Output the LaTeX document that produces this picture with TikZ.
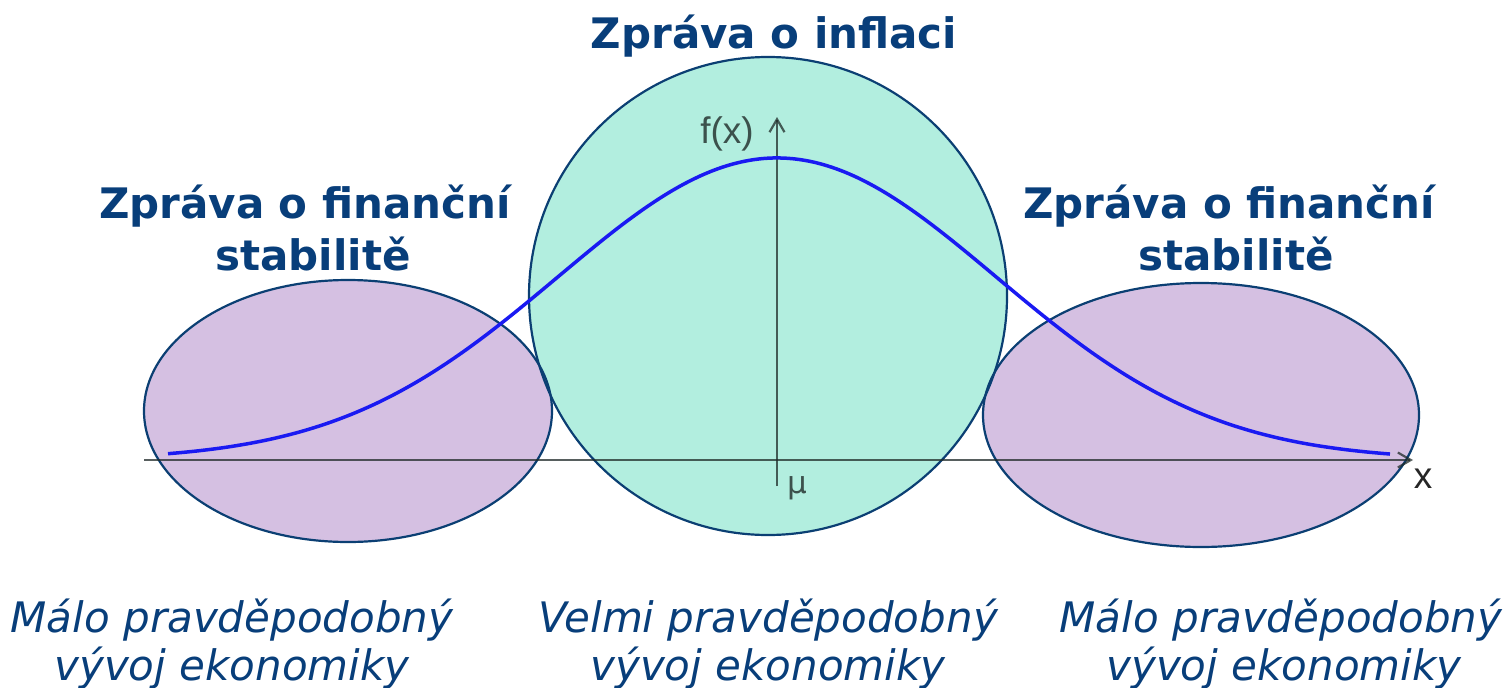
\documentclass[tikz,border=0pt]{standalone}
\usepackage{fontspec}
\setmainfont{DejaVu Sans}
\newfontfamily\lblfont{Liberation Sans}
\usetikzlibrary{arrows.meta}
\definecolor{txtblue}{HTML}{083E7A}
\definecolor{edgeblue}{HTML}{0B3F73}
\definecolor{tealfill}{HTML}{B2EEDF}
\definecolor{purplefill}{HTML}{D5C0E2}
\definecolor{curveblue}{HTML}{1A1AF2}
\definecolor{axisgray}{HTML}{1F2A28}
\tikzset{
  titletext/.style={font=\fontsize{42}{48}\selectfont\bfseries, text=txtblue, inner sep=0pt, anchor=base},
  notetext/.style={font=\fontsize{42}{48}\selectfont\itshape, text=txtblue, inner sep=0pt, anchor=base},
  axislabel/.style={font=\lblfont\fontsize{37}{40}\selectfont, text=axisgray, text opacity=0.8, inner sep=0pt},
  region/.style={draw=edgeblue, line width=2.2pt},
  axisline/.style={draw=axisgray, draw opacity=0.75, line width=2.2pt},
}
\begin{document}
\begin{tikzpicture}[x=1pt,y=-1pt]
\useasboundingbox (0,0) rectangle (1510,688);
% regions
\fill[purplefill] (348,411) ellipse [x radius=204, y radius=131];
\fill[purplefill] (1201,415) ellipse [x radius=218, y radius=132];
\node[region, fill=tealfill, circle, minimum size=478pt, inner sep=0pt] (mid) at (768,296) {};
\draw[region] (348,411) ellipse [x radius=204, y radius=131];
\draw[region] (1201,415) ellipse [x radius=218, y radius=132];
% axes
\coordinate (xs) at (144,460);
\coordinate (xe) at (1413,460);
\coordinate (ys) at (777,486);
\coordinate (ye) at (777,117);
\draw[axisline, -{Straight Barb[length=13pt,width=15pt]}] (xs) -- (xe);
\draw[axisline, -{Straight Barb[length=13pt,width=15pt]}] (ys) -- (ye);
% curve
\draw[curveblue, line width=3.5pt, smooth, samples=120, domain=168:1390]
  plot ({\x},{460-302*exp(-0.5*((\x-777)/219)^2)});
% axis labels
\node[axislabel] (fx) at (727,134) {f(x)};
\node[axislabel] (mu) at (797,488) {\fontspec{DejaVu Sans}\fontsize{31}{33}\selectfont μ};
\node[axislabel, text=black, text opacity=0.85] (xl) at (1423,479) {x};
% titles
\node[titletext] (t1) at (774,48) {Zpráva o inflaci};
\node[titletext] (t2a) at (305,218) {Zpráva o finanční};
\node[titletext] (t2b) at (313,270) {stabilitě};
\node[titletext] (t3a) at (1229,218) {Zpráva o finanční};
\node[titletext] (t3b) at (1236,270) {stabilitě};
% notes
\node[notetext] (n1a) at (232,632) {Málo pravděpodobný};
\node[notetext] (n1b) at (232,680) {vývoj ekonomiky};
\node[notetext] (n2a) at (768,632) {Velmi pravděpodobný};
\node[notetext] (n2b) at (768,680) {vývoj ekonomiky};
\node[notetext] (n3a) at (1281,632) {Málo pravděpodobný};
\node[notetext] (n3b) at (1284,680) {vývoj ekonomiky};
\end{tikzpicture}
\end{document}
